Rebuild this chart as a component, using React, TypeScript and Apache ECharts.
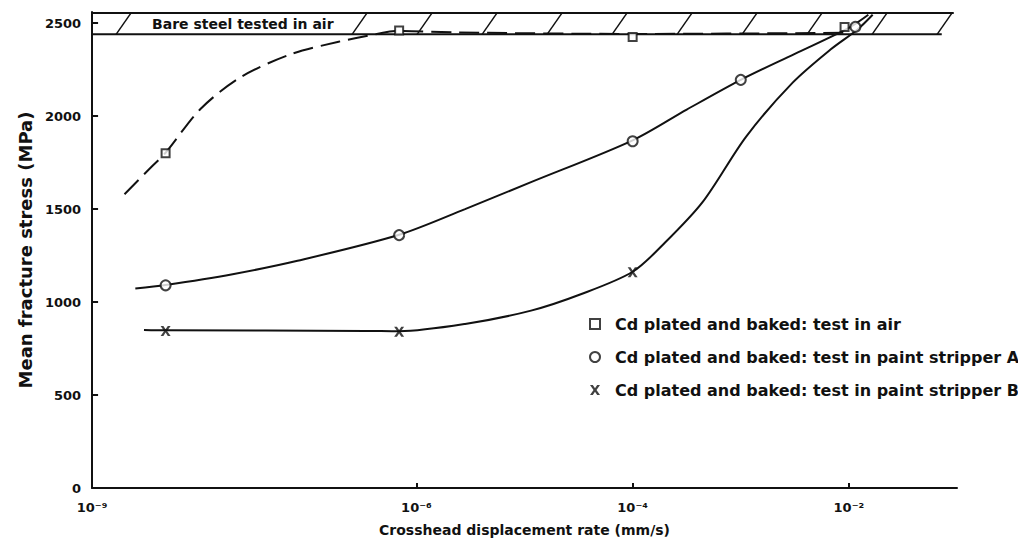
import React, { useEffect, useRef } from "react";
import * as echarts from "echarts";

// x values are log10 of crosshead displacement rate (mm/s)
const xTickValues = [-9, -6, -4, -2];
const xTickLabels = ["10⁻⁹", "10⁻⁶", "10⁻⁴", "10⁻²"];
const yTickValues = [0, 500, 1000, 1500, 2000, 2500];

const seriesNames = [
  "Cd plated and baked: test in air",
  "Cd plated and baked: test in paint stripper A",
  "Cd plated and baked: test in paint stripper B",
];

// measured points
const airPoints = [[-8.32, 1800], [-6.16, 2460], [-4.0, 2425], [-2.04, 2480]];
const stripperAPoints = [[-8.32, 1090], [-6.16, 1360], [-4.0, 1865], [-3.0, 2195], [-1.94, 2480]];
const stripperBPoints = [[-8.32, 845], [-6.16, 840], [-4.0, 1160]];

// hand-drawn fitted curves
const airCurve = [
  [-8.7, 1580], [-8.45, 1728], [-8.32, 1803], [-8.0, 2037], [-7.63, 2208],
  [-7.17, 2331], [-6.72, 2400], [-6.31, 2448], [-6.16, 2458], [-5.62, 2450],
  [-4.0, 2442], [-2.0, 2448],
];
const stripperACurve = [
  [-8.6, 1073], [-8.32, 1092], [-7.7, 1150], [-7.1, 1222], [-6.16, 1362],
  [-5.55, 1500], [-4.94, 1645], [-4.0, 1870], [-3.5, 2035], [-3.0, 2195],
  [-2.5, 2335], [-2.0, 2475], [-1.82, 2545],
];
const stripperBCurve = [
  [-8.52, 850], [-8.32, 848], [-6.47, 845], [-6.16, 843], [-5.55, 882],
  [-4.94, 954], [-4.48, 1042], [-4.0, 1163], [-3.7, 1320], [-3.35, 1540],
  [-2.95, 1890], [-2.52, 2180], [-2.17, 2358], [-1.92, 2466], [-1.78, 2545],
];

// band for bare steel tested in air: [xFrom, xTo, low, high]
const bareSteelBand = [[-9, -1.03, 2440, 2555]];
const bareSteelLabel = "Bare steel tested in air";

const FONT = "'DejaVu Sans', 'Liberation Sans', Arial, sans-serif";
const INK = "#111";

export default function App() {
  const ref = useRef<HTMLDivElement>(null);
  useEffect(() => {
    const chart = echarts.init(ref.current!, undefined, { renderer: "svg" });
    const markerStyle = { color: "#fff", borderColor: INK, borderWidth: 2 };
    const curveStyle = { color: INK, width: 2 };
    const curveCommon = {
      type: "line",
      smooth: 0.3,
      symbol: "none",
      silent: true,
      z: 2,
    };
    chart.setOption({
      animation: false,
      backgroundColor: "#fff",
      textStyle: { fontFamily: FONT },
      grid: { left: 65, right: 61, top: 4, bottom: 50 },
      xAxis: {
        type: "value",
        min: -9,
        max: -1,
        interval: 1,
        name: "Crosshead displacement rate (mm/s)",
        nameLocation: "middle",
        nameGap: 35,
        nameTextStyle: { fontSize: 14, fontWeight: "bold", color: INK, fontFamily: FONT },
        axisLine: { show: true, lineStyle: { color: INK, width: 2 } },
        axisTick: { show: true, inside: true, length: 5, customValues: [-6, -4, -2], lineStyle: { color: INK, width: 2 } },
        axisLabel: {
          customValues: xTickValues,
          margin: 13,
          fontSize: 13,
          fontWeight: "bold",
          color: INK,
          fontFamily: FONT,
          formatter: (v: number) => {
            const i = xTickValues.indexOf(Math.round(v));
            return i >= 0 ? xTickLabels[i] : "";
          },
        },
        splitLine: { show: false },
      },
      yAxis: {
        type: "value",
        min: 0,
        max: 2560,
        interval: 500,
        name: "Mean fracture stress (MPa)",
        nameLocation: "middle",
        nameGap: 40,
        nameTextStyle: { fontSize: 18, fontWeight: "bold", color: INK, fontFamily: FONT },
        axisLine: { show: true, lineStyle: { color: INK, width: 2 } },
        axisTick: { show: true, inside: true, length: 6, customValues: yTickValues.slice(1), lineStyle: { color: INK, width: 2 } },
        axisLabel: {
          customValues: yTickValues,
          margin: 11,
          fontSize: 13,
          fontWeight: "bold",
          color: INK,
          fontFamily: FONT,
          formatter: (v: number) => String(v),
        },
        splitLine: { show: false },
      },
      legend: {
        data: seriesNames,
        orient: "vertical",
        left: 576,
        top: 303,
        itemWidth: 10,
        itemHeight: 10,
        itemGap: 17,
        textStyle: { fontSize: 16, fontWeight: "bold", color: INK, fontFamily: FONT, padding: [0, 0, 0, 10] },
      },
      series: [
        {
          type: "custom",
          silent: true,
          z: 1,
          clip: false,
          data: bareSteelBand,
          encode: { x: [0, 1], y: [2, 3] },
          renderItem: (params: any, api: any) => {
            const tl = api.coord([api.value(0), api.value(3)]);
            const br = api.coord([api.value(1), api.value(2)]);
            const xl = tl[0], yt = tl[1], xr = br[0], yb = br[1];
            const children: any[] = [
              { type: "line", shape: { x1: xl, y1: yt, x2: xr, y2: yt }, style: { stroke: INK, lineWidth: 2 } },
              { type: "line", shape: { x1: xl, y1: yb, x2: xr - 12, y2: yb }, style: { stroke: INK, lineWidth: 2 } },
            ];
            const slashes: number[] = [xl + 24];
            for (let x = xl + 260; x + 16 < xr; x += 65) slashes.push(x);
            for (const x of slashes) {
              children.push({
                type: "line",
                shape: { x1: x, y1: yb, x2: x + 15, y2: yt },
                style: { stroke: INK, lineWidth: 1.5 },
              });
            }
            children.push({
              type: "text",
              x: xl + 60,
              y: (yt + yb) / 2,
              style: {
                text: bareSteelLabel,
                fontSize: 14,
                fontWeight: "bold",
                fontFamily: FONT,
                fill: INK,
                verticalAlign: "middle",
                align: "left",
              },
            });
            return { type: "group", children };
          },
        },
        { ...curveCommon, data: airCurve, lineStyle: { ...curveStyle, type: [20, 8] } },
        { ...curveCommon, data: stripperACurve, lineStyle: curveStyle },
        { ...curveCommon, data: stripperBCurve, lineStyle: curveStyle },
        {
          name: seriesNames[0],
          type: "scatter",
          data: airPoints,
          symbol: "rect",
          symbolSize: 8,
          itemStyle: markerStyle,
          z: 5,
        },
        {
          name: seriesNames[1],
          type: "scatter",
          data: stripperAPoints,
          symbol: "circle",
          symbolSize: 10,
          itemStyle: markerStyle,
          z: 5,
        },
        {
          name: seriesNames[2],
          type: "scatter",
          data: stripperBPoints,
          symbol: "path://M0,0L2.8,0L5,3.3L7.2,0L10,0L6.5,5L10,10L7.2,10L5,6.7L2.8,10L0,10L3.5,5Z",
          symbolSize: 10,
          itemStyle: { color: INK, borderWidth: 0 },
          z: 5,
        },
      ],
    });
    return () => chart.dispose();
  }, []);
  return <div ref={ref} style={{ width: 1010, height: 534 }} />;
}
